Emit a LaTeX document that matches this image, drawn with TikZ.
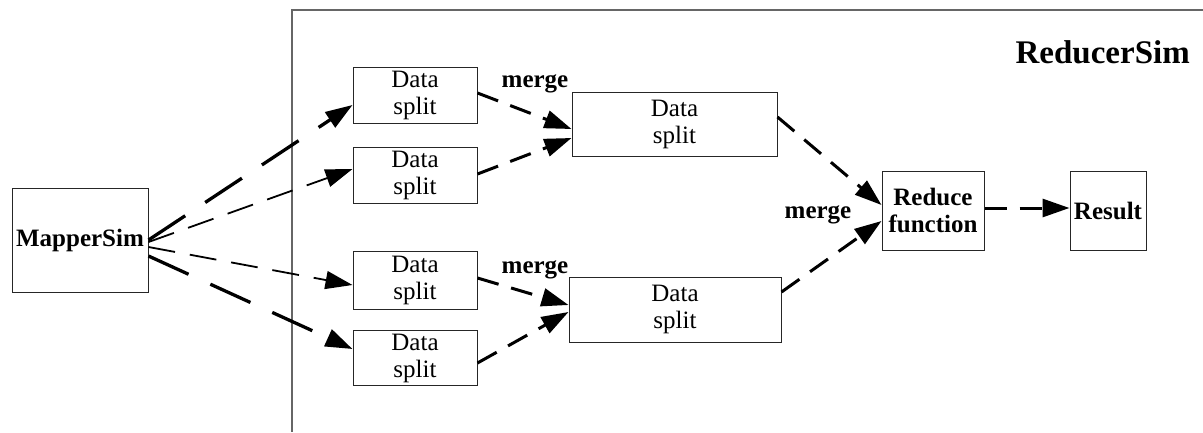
\documentclass[tikz,border=0pt]{standalone}
\usepackage{fontspec}
\setmainfont{Liberation Serif}
\usetikzlibrary{arrows.meta}
\begin{document}
\begin{tikzpicture}[x=1pt,y=-1pt,
  box/.style={draw=black!85,line width=1pt,inner sep=0pt,align=center,
    font=\fontsize{25}{27}\selectfont},
  bbox/.style={box,font=\fontsize{25}{27}\selectfont\bfseries},
  lbl/.style={inner sep=0pt,font=\fontsize{25}{27}\selectfont\bfseries},
  tip/.style={-{Triangle[length=27pt,width=18pt]}},
  thickdash/.style={tip,line width=3.3pt,dash pattern=on 44pt off 24pt},
  thindash/.style={tip,line width=1.8pt,dash pattern=on 27pt off 15pt},
  mergedash/.style={tip,line width=3pt,dash pattern=on 22pt off 13pt}]
\useasboundingbox (0,0) rectangle (1203,432);
% outer ReducerSim frame
\draw[black!60,line width=1.5pt] (1203,10) -- (292,10) -- (292,432);
\node[lbl,anchor=east,font=\fontsize{33}{35}\selectfont\bfseries] (rs) at (1190,52) {ReducerSim};
% nodes
\node[bbox,minimum width=136pt,minimum height=104pt] (map) at (80,240) {MapperSim};
\node[box,minimum width=124pt,minimum height=56pt] (b1) at (415,95) {Data\\split};
\node[box,minimum width=124pt,minimum height=56pt] (b2) at (415,175) {Data\\split};
\node[box,minimum width=124pt,minimum height=58pt] (b3) at (415,280.5) {Data\\split};
\node[box,minimum width=124pt,minimum height=55pt] (b4) at (415,358) {Data\\split};
\node[box,minimum width=205pt,minimum height=64pt] (m1) at (674.5,124) {Data\\split};
\node[box,minimum width=212pt,minimum height=65pt] (m2) at (675,309.5) {Data\\split};
\node[bbox,minimum width=102pt,minimum height=79pt] (red) at (933,210.5) {Reduce\\function};
\node[bbox,minimum width=76pt,minimum height=79pt] (res) at (1108,210.5) {Result};
% labels
\node[lbl] (g1) at (535,84) {merge};
\node[lbl] (g2) at (535,270) {merge};
\node[lbl] (g3) at (818,215) {merge};
% mapper arrows
\draw[thickdash] (map.east) -- ([yshift=-10pt]b1.west);
\draw[thindash] ([yshift=-2pt]map.east) -- ([yshift=6pt]b2.west);
\draw[thindash] ([yshift=-7pt]map.east) -- ([yshift=-4.5pt]b3.west);
\draw[thickdash] ([yshift=-16pt]map.east) -- ([yshift=9pt]b4.west);
% merge arrows
\draw[mergedash] ([yshift=2pt]b1.east) -- ([yshift=-5pt]m1.west);
\draw[mergedash] ([yshift=1pt]b2.east) -- ([yshift=-14pt]m1.west);
\draw[mergedash] ([yshift=2.5pt]b3.east) -- ([yshift=4.5pt]m2.west);
\draw[mergedash] ([yshift=-5pt]b4.east) -- ([yshift=-2.5pt]m2.west);
\draw[mergedash] ([yshift=7pt]m1.east) -- ([yshift=5.5pt]red.west);
\draw[mergedash] ([yshift=17.5pt]m2.east) -- ([yshift=-10.5pt]red.west);
\draw[mergedash] ([yshift=2.5pt]red.east) -- ([yshift=2.5pt]res.west);
\end{tikzpicture}
\end{document}
